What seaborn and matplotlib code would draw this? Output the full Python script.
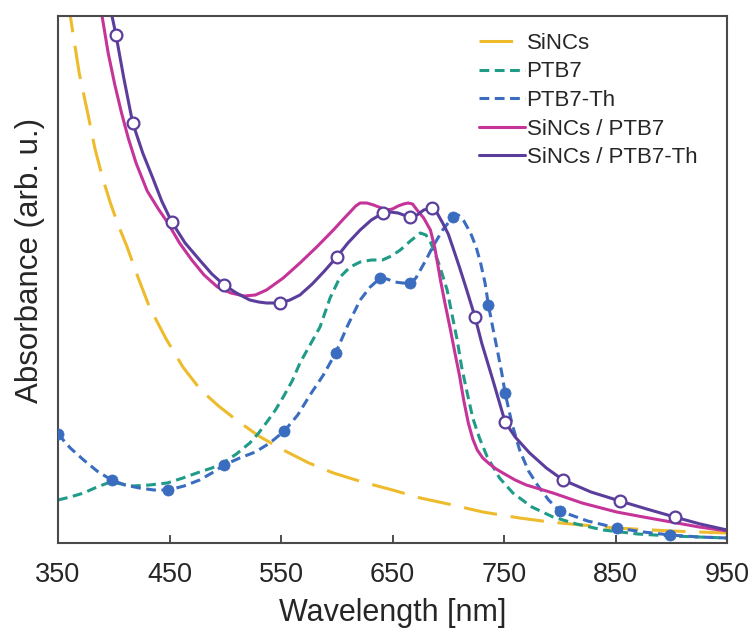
import numpy as np
import pandas as pd
import matplotlib
matplotlib.use("Agg")
import matplotlib.pyplot as plt
from matplotlib.lines import Line2D
import seaborn as sns

# ---------------- data (arb. units) ----------------
sincs_wl = [350, 356, 362, 369, 377, 383, 390, 397, 404, 412, 422, 432, 447, 462, 478, 494, 510, 530,
            552, 575, 597, 623, 650, 675, 700, 731, 764, 791, 820, 850, 900, 950]
sincs_ab = [610, 565, 520, 470, 428, 395, 365, 340, 318, 296, 265, 236, 204, 176, 153, 137, 123, 107,
            93, 80, 70, 61, 53, 45, 39, 31, 25, 21, 18, 15, 12, 10]

ptb7_wl = [350, 361, 373, 385, 397, 407, 417, 432, 448, 462, 477, 488, 498, 510, 522, 530, 538, 545,
           552, 560, 567, 575, 585, 594, 603, 612, 621, 631, 641, 649, 657, 666, 675, 680, 684, 688,
           692, 699, 704, 708, 712, 717, 722, 728, 735, 746, 758, 775, 794, 815, 839, 870, 900, 950]
ptb7_ab = [43, 46, 50, 56, 61, 59, 57, 58, 60, 65, 71, 75, 80, 89, 100, 110, 122, 133,
           146, 162, 180, 196, 216, 245, 266, 276, 281, 283, 283, 287, 293, 302, 310, 308, 301, 290,
           278, 253, 225, 203, 176, 150, 125, 105, 86, 65, 50, 36, 26, 19, 13, 9, 7, 5]

ptb7th_wl = [350, 361, 373, 385, 398, 410, 423, 436, 449, 463, 477, 488, 499, 513, 527, 540, 553, 565,
             576, 588, 599, 610, 621, 630, 639, 645, 652, 659, 666, 671, 675, 680, 686, 695, 704, 709,
             714, 720, 725, 729, 733, 736, 740, 744, 748, 751, 757, 764, 772, 780, 790, 800, 825, 851,
             875, 899, 925, 950]
ptb7th_ab = [109, 95, 83, 72, 63, 58, 55, 53, 53, 57, 63, 70, 78, 85, 91, 100, 112, 128,
             148, 168, 190, 218, 243, 256, 265, 264, 261, 260, 260, 265, 273, 283, 296, 313, 326, 328,
             322, 310, 296, 280, 260, 238, 215, 193, 170, 150, 120, 93, 72, 58, 43, 32, 22, 15,
             11, 8, 6, 5]
ptb7th_marks = [350, 398, 449, 499, 553, 599, 639, 666, 704, 736, 751, 800, 851, 899]

blend7_wl = [383, 389.5, 395, 401, 407, 413, 420, 430, 440, 448, 459, 470, 481, 493, 505, 517, 527,
             537, 552, 567, 582, 597, 606, 612, 617, 621, 627, 633, 640, 645, 650, 655, 660, 664, 668,
             672, 678, 684, 688, 693, 697, 702, 706, 710, 714, 718, 722, 726, 731, 737, 743, 749, 760,
             770, 782, 794, 820, 851, 875, 900, 925, 950]
blend7_ab = [600, 527, 490, 458, 430, 405, 380, 352, 334, 321, 300, 283, 268, 256, 250, 247, 248,
             253, 265, 280, 296, 313, 324, 331, 337, 340, 340, 338, 335, 333, 334, 337, 339, 340, 339,
             333, 325, 313, 295, 263, 240, 213, 190, 168, 142, 120, 104, 93, 85, 79, 74, 70, 63,
             58, 54, 50, 40, 31, 26, 21, 16, 12]

blend7th_wl = [390, 396, 402, 409, 417, 426, 435, 443, 452, 464, 477, 488, 499, 510, 522, 530, 537,
               549, 558, 567, 578, 589, 600, 610, 621, 631, 641.5, 648, 655, 660, 666, 672, 678, 685,
               690, 695, 700, 704, 710, 716, 724, 730, 740, 751, 760, 773, 788, 803, 828, 854, 878,
               903, 926, 950]
blend7th_ab = [575, 540, 508, 465, 420, 390, 365, 342, 321, 300, 283, 269, 258, 250, 243, 241, 240,
               240, 243, 248, 259, 272, 286, 300, 313, 323, 330, 331, 330, 328, 326, 328, 333, 335,
               330, 320, 309, 296, 276, 255, 226, 200, 163, 121, 106, 90, 75, 63, 51, 42, 34,
               26, 19, 13]
blend7th_marks = [402, 417, 452, 499, 549, 600, 641.5, 666, 685, 724, 751, 803, 854, 903]

labels = ["SiNCs", "PTB7", "PTB7-Th", "SiNCs / PTB7", "SiNCs / PTB7-Th"]
xticks = [350, 450, 550, 650, 750, 850, 950]

# ---------------- style ----------------
c_yel = "#EDBB2C"
c_teal = "#1F9B87"
c_blue = "#3A6CC0"
c_mag = "#C53499"
c_pur = "#5B3D9C"

sns.set_theme(style="white")
plt.rcParams["font.family"] = ["Liberation Sans", "DejaVu Sans"]

fig = plt.figure(figsize=(7.53, 6.33), dpi=100)
ax = fig.add_axes([58 / 753, 90 / 633, 669 / 753, 527 / 633])

lw = 2.2
dash_long = (0, (11, 4.5))
dash_short = (0, (3.2, 1.8))

def df(wl, ab):
    return pd.DataFrame({"wl": wl, "ab": ab})

d_sincs = df(sincs_wl, sincs_ab)
d_p7 = df(ptb7_wl, ptb7_ab)
d_p7th = df(ptb7th_wl, ptb7th_ab)
d_b7 = df(blend7_wl, blend7_ab)
d_b7th = df(blend7th_wl, blend7th_ab)

sns.lineplot(data=d_sincs, x="wl", y="ab", ax=ax, color=c_yel, lw=lw, linestyle=dash_long, sort=False)
sns.lineplot(data=d_p7, x="wl", y="ab", ax=ax, color=c_teal, lw=lw, linestyle=dash_short, sort=False)
sns.lineplot(data=d_p7th, x="wl", y="ab", ax=ax, color=c_blue, lw=lw, linestyle=dash_short, sort=False)
sns.lineplot(data=d_b7, x="wl", y="ab", ax=ax, color=c_mag, lw=lw, sort=False)
sns.lineplot(data=d_b7th, x="wl", y="ab", ax=ax, color=c_pur, lw=lw, sort=False)

m_p7th = d_p7th[d_p7th["wl"].isin(ptb7th_marks)]
m_b7th = d_b7th[d_b7th["wl"].isin(blend7th_marks)]
sns.scatterplot(data=m_p7th, x="wl", y="ab", ax=ax, color=c_blue, s=64, edgecolor=c_blue,
                linewidth=0.5, legend=False, zorder=4)
sns.scatterplot(data=m_b7th, x="wl", y="ab", ax=ax, color="white", s=72, edgecolor=c_pur,
                linewidth=1.6, legend=False, zorder=4)

ax.set_xlim(350, 950)
ax.set_ylim(0, 527)
ax.set_xticks(xticks)
ax.set_xticklabels([str(t) for t in xticks], fontsize=19.5, color="#262626")
ax.set_yticks([])
ax.tick_params(axis="x", direction="in", length=6, width=1.3, color="#404040", pad=14, bottom=True, top=False)

for sp in ax.spines.values():
    sp.set_visible(True)
    sp.set_color("#4a4a4a")
    sp.set_linewidth(1.5)

ax.set_xlabel("Wavelength [nm]", fontsize=22, color="#262626", labelpad=7)
ax.set_ylabel("Absorbance (arb. u.)", fontsize=22.5, color="#262626")
ax.yaxis.set_label_coords(-0.02, 0.537)

handles = [
    Line2D([], [], color=c_yel, lw=lw, linestyle=dash_long),
    Line2D([], [], color=c_teal, lw=lw, linestyle=dash_short),
    Line2D([], [], color=c_blue, lw=lw, linestyle=dash_short),
    Line2D([], [], color=c_mag, lw=lw),
    Line2D([], [], color=c_pur, lw=lw),
]
leg = ax.legend(handles, labels, loc="upper left", bbox_to_anchor=(0.629, 0.968), frameon=False,
                fontsize=16, handlelength=2.1, handletextpad=0.05, labelspacing=0.34,
                borderpad=0, borderaxespad=0)
for t in leg.get_texts():
    t.set_color("#262626")

fig.savefig("out.png", dpi=100)
